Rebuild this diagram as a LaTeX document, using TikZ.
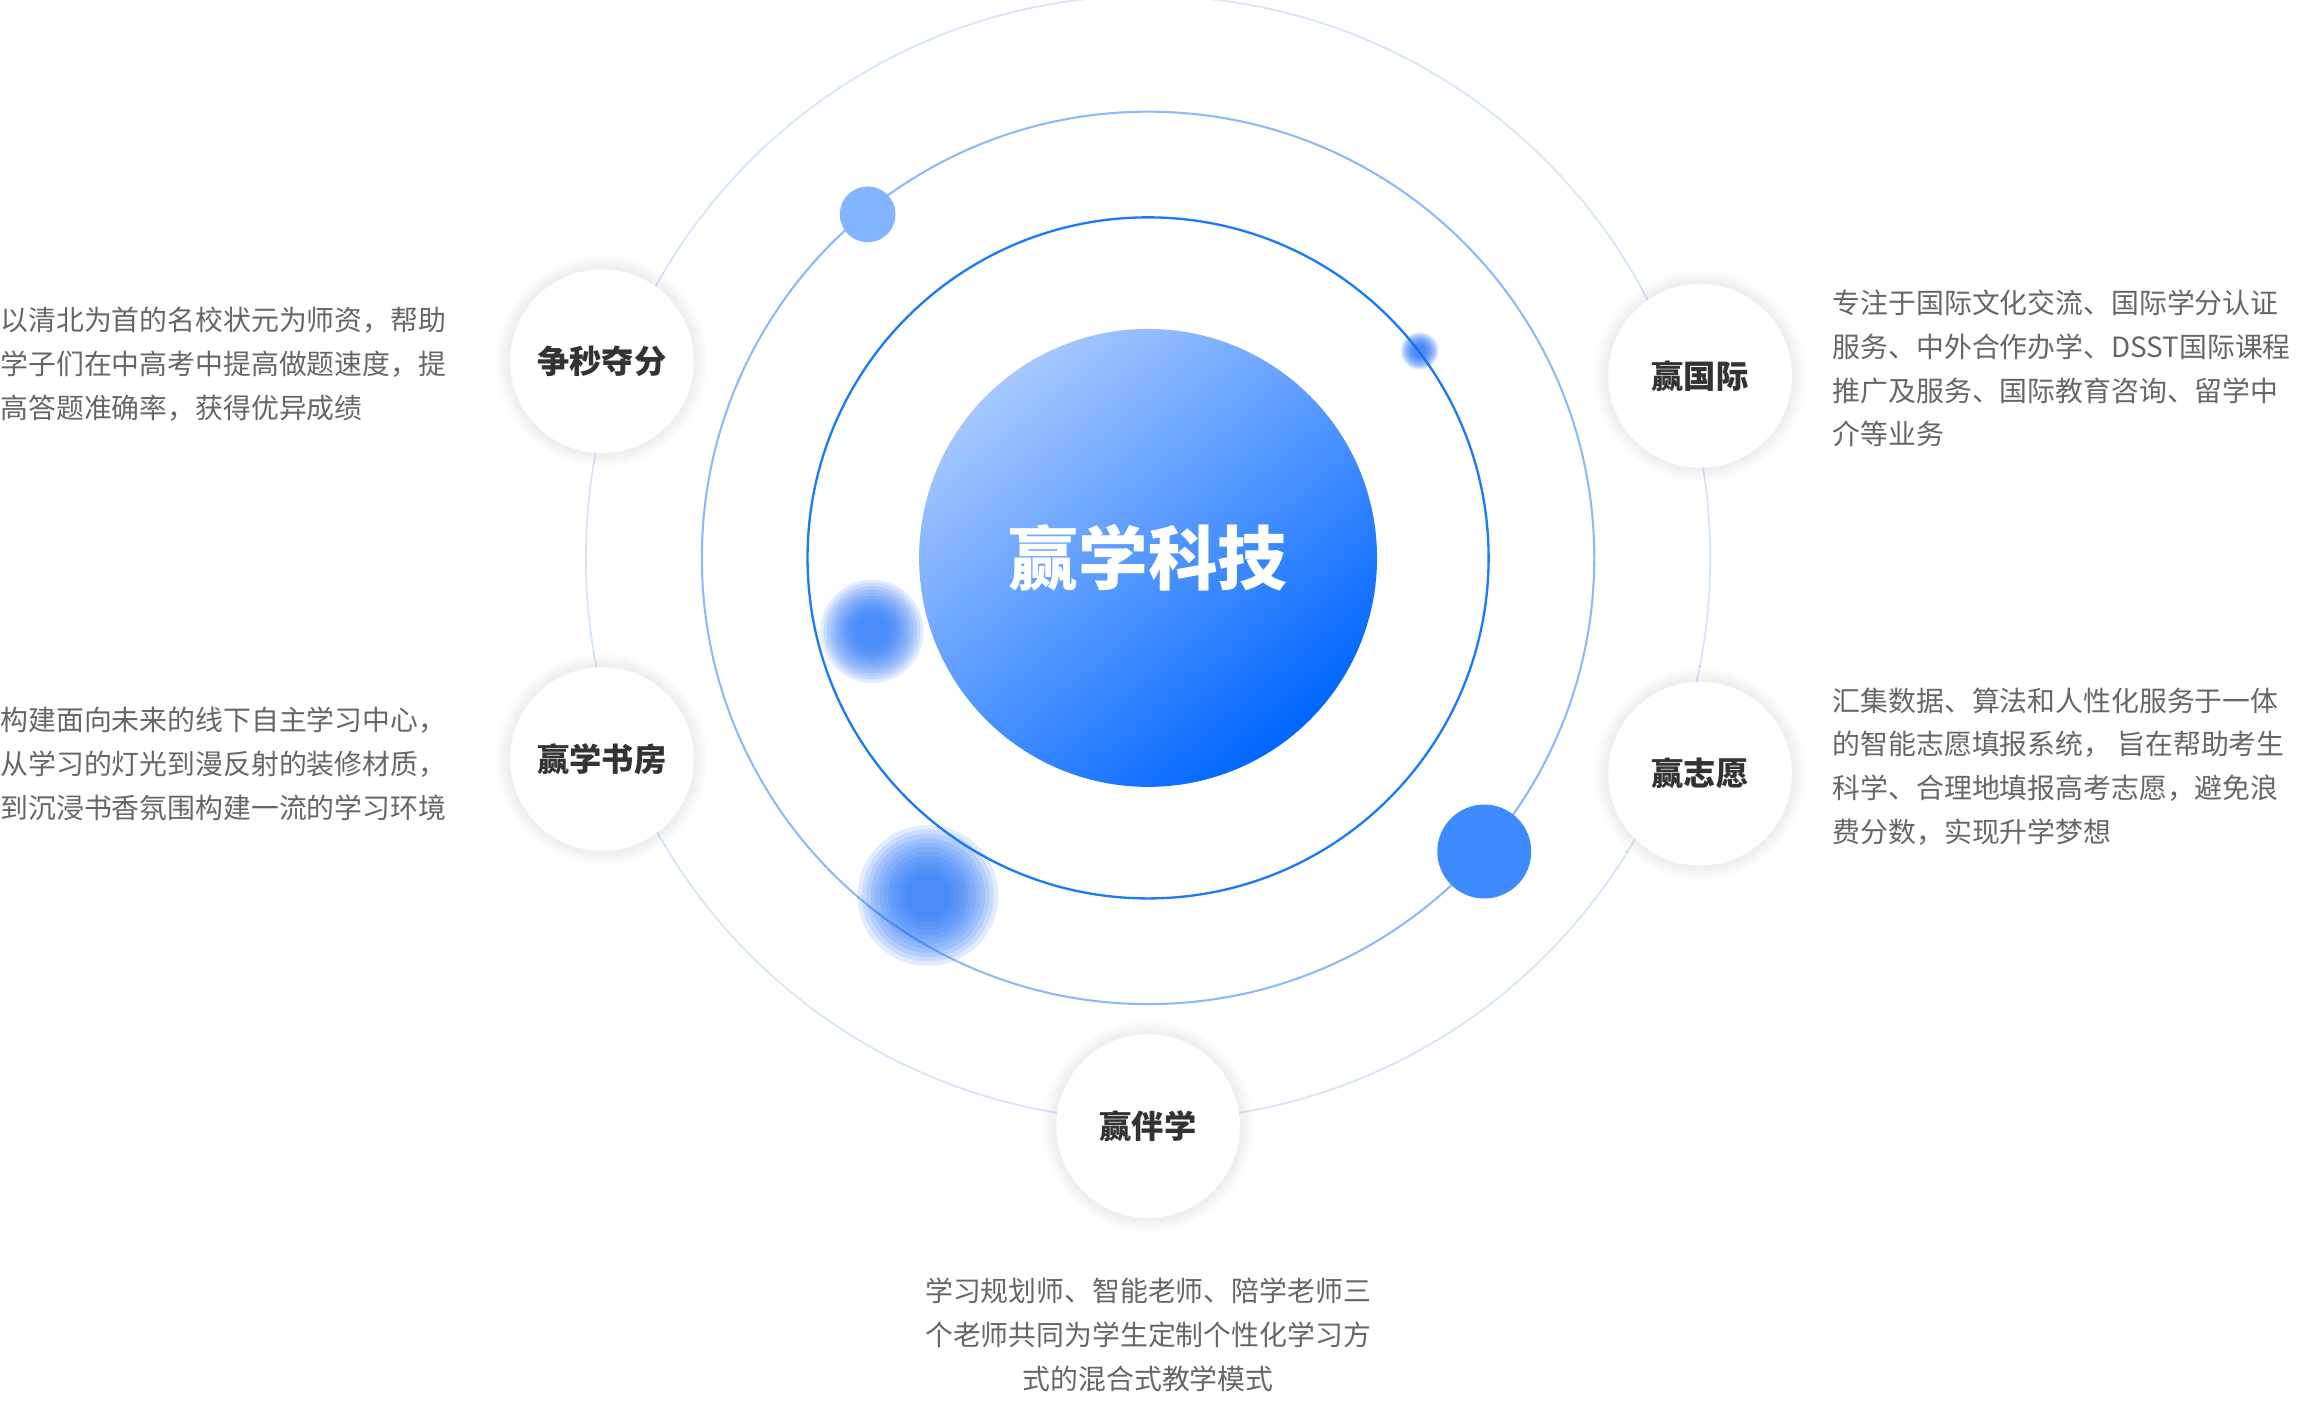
\documentclass[tikz,border=0pt]{standalone}
\usepackage{fontspec}
\setmainfont{Noto Sans CJK SC}
\usetikzlibrary{shadows.blur}
\definecolor{ringA}{HTML}{1A7BF5}
\definecolor{ringB}{HTML}{8DB9F7}
\definecolor{ringC}{HTML}{D6E5FB}
\definecolor{txt}{HTML}{666666}
\definecolor{dotA}{HTML}{82B4FF}
\definecolor{dotB}{HTML}{3D8BFF}
\definecolor{dotC}{HTML}{1F6FF5}
\definecolor{coreL}{HTML}{A6C8FF}
\definecolor{coreD}{HTML}{0066FF}
\begin{document}
\begin{tikzpicture}[x=0.02cm,y=-0.02cm,
  badge/.style={circle,fill=white,minimum size=2.5cm,font=\fontsize{12.5}{14}\selectfont\bfseries,text=black!80,
    blur shadow={shadow xshift=0pt,shadow yshift=0pt,shadow scale=1.1,shadow opacity=6,shadow blur steps=14}},
  desc/.style={font=\fontsize{10.8}{17}\selectfont,text=txt,align=left,inner sep=0pt}]
\useasboundingbox (0,0) rectangle (1568,960);
\coordinate (c) at (782,380);
% rings
\draw[ringC,line width=0.7pt] (c) circle[radius=7.66cm];
\draw[ringB,line width=0.8pt] (c) circle[radius=6.08cm];
\draw[ringA,line width=0.9pt] (c) circle[radius=4.64cm];
% core
\shade[top color=coreL,bottom color=coreD,shading angle=40] (c) circle[radius=3.12cm];
\node[font=\fontsize{27}{30}\selectfont\bfseries,text=white] (core) at (c) {赢学科技};
% dots
\fill[dotA] (591,146) circle[radius=0.38cm];
\fill[dotB] (1011,580) circle[radius=0.64cm];
\foreach \px/\py/\r in {967/239/0.16,594/430/0.44,632/610/0.6}{
  \foreach \k in {1.6,1.5,...,0.4}
    \fill[dotC,opacity=0.13] (\px,\py) circle[radius=\k*\r cm];
}
% badges
\node[badge] (score) at (410,246) {争秒夺分};
\node[badge] (study) at (410,517) {赢学书房};
\node[badge] (intl) at (1158,256) {赢国际};
\node[badge] (wish) at (1158,527) {赢志愿};
\node[badge] (mate) at (782,767) {赢伴学};
% texts
\node[desc,anchor=north west] (scoreT) at (0,209) {以清北为首的名校状元为师资，帮助\\学子们在中高考中提高做题速度，提\\高答题准确率，获得优异成绩};
\node[desc,anchor=north west] (studyT) at (0,481) {构建面向未来的线下自主学习中心，\\从学习的灯光到漫反射的装修材质，\\到沉浸书香氛围构建一流的学习环境};
\node[desc,anchor=north west] (intlT) at (1248,197) {专注于国际文化交流、国际学分认证\\服务、中外合作办学、DSST国际课程\\推广及服务、国际教育咨询、留学中\\介等业务};
\node[desc,anchor=north west] (wishT) at (1248,468) {汇集数据、算法和人性化服务于一体\\的智能志愿填报系统， 旨在帮助考生\\科学、合理地填报高考志愿，避免浪\\费分数，实现升学梦想};
\node[desc,align=center,anchor=north] (mateT) at (782,870) {学习规划师、智能老师、陪学老师三\\个老师共同为学生定制个性化学习方\\式的混合式教学模式};
\end{tikzpicture}
\end{document}
